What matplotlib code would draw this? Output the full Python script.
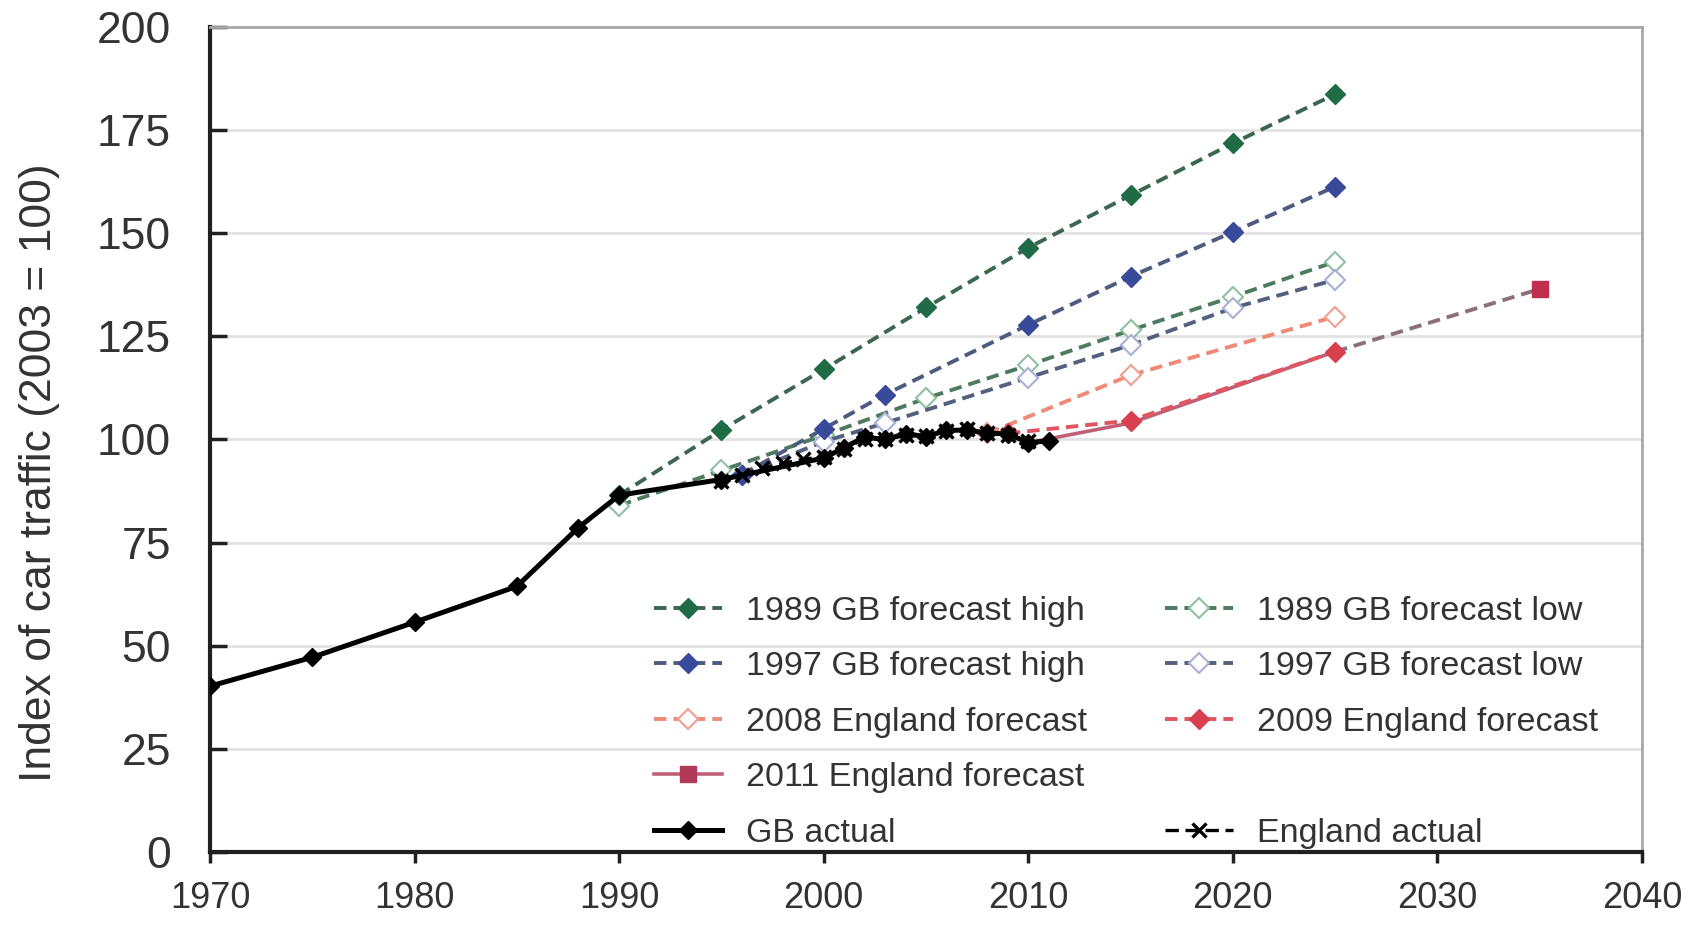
import matplotlib
matplotlib.use('Agg')
import matplotlib.pyplot as plt
from matplotlib.lines import Line2D

plt.rcParams['font.family'] = ['Liberation Sans', 'DejaVu Sans']

# GB actual
gb_years = [1970, 1975, 1980, 1985, 1988, 1990, 1995, 2000, 2001, 2002, 2003, 2004,
            2005, 2006, 2007, 2008, 2009, 2010, 2011]
gb_vals = [40.2, 47.2, 55.7, 64.4, 78.6, 86.5, 90.3, 95.5, 98.0, 100.6, 100.0, 101.4,
           100.7, 102.2, 102.3, 101.5, 101.4, 99.2, 99.7]

# England actual
eng_years = [1995, 1996, 1997, 1998, 1999, 2000, 2001, 2002, 2003, 2004, 2005, 2006,
             2007, 2008, 2009, 2010]
eng_vals = [90.0, 91.5, 93.0, 94.2, 95.2, 95.8, 97.6, 100.2, 100.0, 101.0, 100.9, 102.0,
            102.5, 101.6, 101.2, 99.6]

# 1989 GB forecasts
f89_years = [1990, 1995, 2000, 2005, 2010, 2015, 2020, 2025]
f89_high = [86.5, 102.3, 117.0, 132.0, 146.5, 159.2, 171.8, 183.7]
f89_low = [84.0, 92.5, 101.0, 110.0, 118.0, 126.5, 134.6, 143.1]

# 1997 GB forecasts
f97_years = [1996, 2000, 2003, 2010, 2015, 2020, 2025]
f97_high = [91.5, 102.6, 110.9, 127.8, 139.5, 150.3, 161.3]
f97_low = [91.5, 99.5, 104.0, 115.0, 122.9, 131.9, 138.7]

# England forecasts
f08_years = [2008, 2015, 2025]
f08_vals = [101.5, 115.6, 129.8]
f09_years = [2009, 2015, 2025]
f09_vals = [101.5, 104.6, 121.3]
f11_years = [2010, 2015, 2025, 2035]
f11_vals = [99.2, 104.0, 121.3, 136.5]

fig = plt.figure(figsize=(17.03, 9.40), dpi=100)
ax = fig.add_axes([0.1233, 0.0936, 0.8409, 0.8777])

dash = (3.2, 1.8)
LW = 2.8
MS = 10
ax.plot(f89_years, f89_low, '--', dashes=dash, color='#4e7a60', lw=LW, marker='D', ms=MS,
        mfc='white', mec='#8fc0a0', mew=1.5, zorder=3)
ax.plot(f97_years, f97_low, '--', dashes=dash, color='#55607e', lw=LW, marker='D', ms=MS,
        mfc='white', mec='#a8b0d8', mew=1.5, zorder=3)
ax.plot(f89_years, f89_high, '--', dashes=dash, color='#3c6650', lw=LW, marker='D', ms=MS,
        mfc='#1e6b45', mec='#1e6b45', zorder=3)
ax.plot(f97_years, f97_high, '--', dashes=dash, color='#4e5a80', lw=LW, marker='D', ms=MS,
        mfc='#3a4a9a', mec='#3a4a9a', zorder=3)
ax.plot(f08_years, f08_vals, '--', dashes=dash, color='#f08a78', lw=LW, marker='D', ms=MS,
        mfc='white', mec='#f0a090', mew=1.5, zorder=3)
ax.plot(f11_years[:3], f11_vals[:3], '-', color='#c06078', lw=2.6, zorder=3)
ax.plot(f11_years[2:], f11_vals[2:], '--', dashes=dash, color='#8a7078', lw=LW,
        marker='s', ms=12, markevery=[1], mfc='#c0304e', mec='#c0304e', zorder=3)
ax.plot(f09_years, f09_vals, '--', dashes=dash, color='#e05560', lw=LW, marker='D', ms=MS,
        mfc='#d9404f', mec='#d9404f', zorder=3)
ax.plot(eng_years, eng_vals, '--', dashes=(4, 2), color='black', lw=2.4, marker='x', ms=10,
        mew=2.4, zorder=4)
ax.plot(gb_years, gb_vals, '-', color='black', lw=3.6, marker='D', ms=9, zorder=5)

ax.set_xlim(1970, 2040)
ax.set_ylim(0, 200)
ax.set_xticks(range(1970, 2041, 10))
ax.set_yticks(range(0, 201, 25))
ax.yaxis.grid(True, color='#e2e2e2', lw=2)
ax.set_axisbelow(True)

for s in ['left', 'bottom']:
    ax.spines[s].set_linewidth(3)
    ax.spines[s].set_color('#202020')
for s in ['top', 'right']:
    ax.spines[s].set_linewidth(2)
    ax.spines[s].set_color('#a8a8a8')

ax.tick_params(axis='y', direction='in', length=12, width=2.5, labelsize=32, pad=28,
               colors='#202020')
ax.tick_params(axis='x', direction='out', length=8, width=2.5, labelsize=26, pad=13,
               colors='#202020')
for t in ax.get_yticklabels() + ax.get_xticklabels():
    t.set_color('#333333')
ax.set_ylabel('Index of car traffic (2003 = 100)', fontsize=32, color='#333333')
ax.yaxis.set_label_coords(-0.105, 0.46)

# legend rows read left to right, so feed it column by column
def h(**kw):
    return Line2D([], [], **kw)

handles = [
    h(ls='--', dashes=dash, color='#3c6650', lw=LW, marker='D', ms=MS, mfc='#1e6b45', mec='#1e6b45'),
    h(ls='--', dashes=dash, color='#4e5a80', lw=LW, marker='D', ms=MS, mfc='#3a4a9a', mec='#3a4a9a'),
    h(ls='--', dashes=dash, color='#f08a78', lw=LW, marker='D', ms=MS, mfc='white', mec='#f0a090', mew=1.5),
    h(ls='-', color='#c06078', lw=2.6, marker='s', ms=11, mfc='#b03a58', mec='#b03a58'),
    h(ls='-', color='black', lw=3.6, marker='D', ms=9),
    h(ls='--', dashes=dash, color='#4e7a60', lw=LW, marker='D', ms=MS, mfc='white', mec='#8fc0a0', mew=1.5),
    h(ls='--', dashes=dash, color='#55607e', lw=LW, marker='D', ms=MS, mfc='white', mec='#a8b0d8', mew=1.5),
    h(ls='--', dashes=dash, color='#e05560', lw=LW, marker='D', ms=MS, mfc='#d9404f', mec='#d9404f'),
    h(ls='none'),
    h(ls='--', dashes=(4, 2), color='black', lw=2.4, marker='x', ms=10, mew=2.4),
]
labels = ['1989 GB forecast high', '1997 GB forecast high', '2008 England forecast',
          '2011 England forecast', 'GB actual',
          '1989 GB forecast low', '1997 GB forecast low', '2009 England forecast',
          '', 'England actual']
leg = ax.legend(handles, labels, ncol=2, loc='lower left', bbox_to_anchor=(0.31, 0.004),
                frameon=False, fontsize=24.5, handlelength=2.0, handletextpad=0.7,
                columnspacing=2.3, labelspacing=0.72, borderpad=0, borderaxespad=0)
for t in leg.get_texts():
    t.set_color('#333333')

fig.savefig('out.png', dpi=100)
